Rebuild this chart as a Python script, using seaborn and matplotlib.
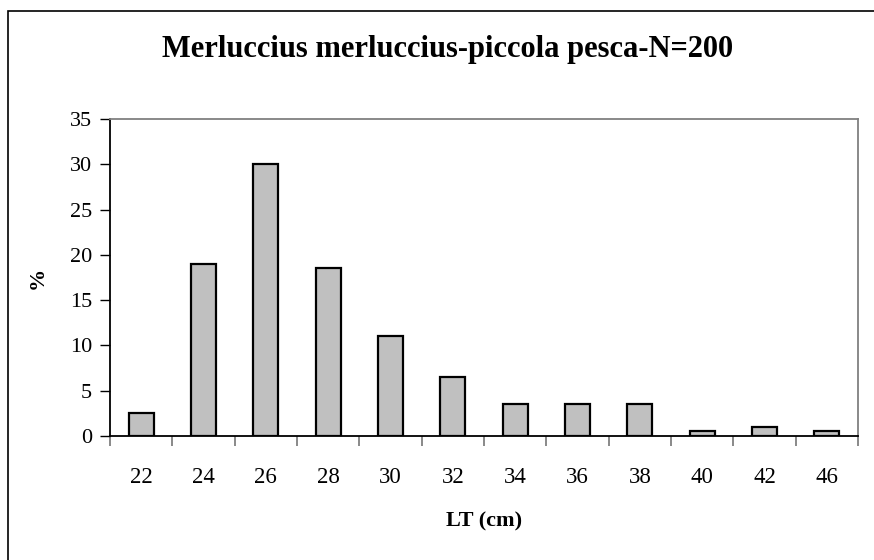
import matplotlib
matplotlib.use("Agg")
import matplotlib.pyplot as plt
import seaborn as sns
import pandas as pd
import numpy as np
from matplotlib.patches import Rectangle

lengths = ["22", "24", "26", "28", "30", "32", "34", "36", "38", "40", "42", "46"]
percent = [2.5, 19, 30, 18.5, 11, 6.5, 3.5, 3.5, 3.5, 0.5, 1, 0.5]
yticks = [0, 5, 10, 15, 20, 25, 30, 35]
title = "Merluccius merluccius-piccola pesca-N=200"
xlabel = "LT (cm)"
ylabel = "%"

df = pd.DataFrame({"LT": lengths, "pct": percent})

sns.set_theme(style="white")
plt.rcParams["font.family"] = ["Liberation Serif", "DejaVu Serif"]
plt.rcParams["text.color"] = "black"
plt.rcParams["axes.labelcolor"] = "black"
plt.rcParams["xtick.color"] = "black"
plt.rcParams["ytick.color"] = "black"

W, H = 874, 560
fig = plt.figure(figsize=(W / 100, H / 100), dpi=100)
ax = fig.add_axes([110 / W, (H - 436) / H, 748 / W, 317 / H])

sns.barplot(data=df, x="LT", y="pct", ax=ax, color="#C0C0C0", width=0.4,
            edgecolor="black", linewidth=1.6, saturation=1)
for p in ax.patches:
    p.set_facecolor("#C0C0C0")

ax.set_xlim(-0.5, len(lengths) - 0.5)
ax.set_ylim(0, 35)
ax.set_yticks(yticks)
ax.set_yticklabels([str(v) for v in yticks], fontsize=16)

ax.set_xticks(range(len(lengths)))
ax.set_xticklabels(lengths, fontsize=16.5)
ax.set_xticks(np.arange(-0.5, len(lengths), 1.0), minor=True)
ax.tick_params(axis="x", which="both", bottom=True)
ax.tick_params(axis="x", which="major", length=0, pad=22)
ax.tick_params(axis="x", which="minor", length=7, width=1.3, color="#808080",
               direction="out", labelbottom=False)
ax.tick_params(axis="y", which="major", left=True, length=7, width=1.0,
               color="black", direction="out", pad=6)

for s in ["left", "bottom"]:
    ax.spines[s].set_color("black")
    ax.spines[s].set_linewidth(1.3)
for s in ["top", "right"]:
    ax.spines[s].set_visible(True)
    ax.spines[s].set_color("#808080")
    ax.spines[s].set_linewidth(1.3)

ax.set_xlabel(xlabel, fontsize=16, fontweight="bold")
ax.xaxis.set_label_coords(0.5, (436 - 521) / 317)
ax.xaxis.label.set_va("center")
ax.set_ylabel(ylabel, fontsize=16, fontweight="bold")
ax.yaxis.set_label_coords((38 - 110) / 748, 0.5)
ax.yaxis.label.set_va("center")
ax.grid(False)

fig.text(448 / W, 1 - 49 / H, title, ha="center", va="center",
         fontsize=22, fontweight="bold")

fig.patches.append(Rectangle((8 / W, -0.1), 1.2, 1 - 11 / H + 0.1,
                             transform=fig.transFigure, fill=False,
                             edgecolor="black", linewidth=1.2))

fig.savefig("out.png", dpi=100)
